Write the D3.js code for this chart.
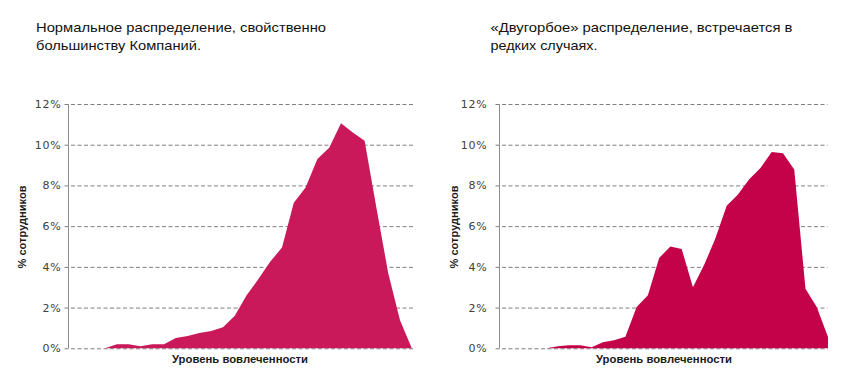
<!DOCTYPE html>
<html>
<head>
<meta charset="utf-8">
<script src="https://cdn.jsdelivr.net/npm/d3@7"></script>
<style>
  body { margin: 0; background: #fff; }
  svg { display: block; }
</style>
</head>
<body>
<svg id="chart" width="844" height="385"></svg>
<script>
// значения распределений, % сотрудников по уровню вовлеченности
let normalValues = [0, 0.2, 0.2, 0.1, 0.2, 0.2, 0.5, 0.6, 0.75, 0.85, 1.03, 1.6, 2.6, 3.4,
    4.25, 4.95, 7.15, 7.9, 9.3, 9.85, 11.05, 10.6, 10.2, 6.9, 3.7, 1.38, 0];
let twinPeakValues = [0, 0.1, 0.15, 0.15, 0.05, 0.3, 0.4, 0.57, 2.03, 2.6, 4.44, 5.0, 4.88,
    3.0, 4.1, 5.4, 7.0, 7.56, 8.3, 8.86, 9.64, 9.58, 8.78, 2.93, 2.03, 0.55];
let yTicks = [0, 2, 4, 6, 8, 10, 12];
let titleNormal = ["Нормальное распределение, свойственно", "большинству Компаний."];
let titleTwin = ["«Двугорбое» распределение, встречается в", "редких случаях."];
let yTitle = "% сотрудников";
let xTitle = "Уровень вовлеченности";

let svg = d3.select("#chart");

function drawPanel(values, title, p) {
    let g = svg.append("g");

    let yScale = d3.scaleLinear().domain([0, 12]).range([348.3, 104]);
    let xScale = d3.scaleLinear().domain([0, values.length - 1]).range([p.xFirst, p.xLast]);

    // заголовок
    g.selectAll("text.title")
        .data(title)
        .enter()
        .append("text")
        .attr("class", "title")
        .attr("x", p.titleX)
        .attr("y", (d, i) => 32 + i * 17.5)
        .attr("textLength", (d, i) => p.titleW[i])
        .attr("lengthAdjust", "spacingAndGlyphs")
        .style("font-family", "'Liberation Sans', Arial, sans-serif")
        .style("font-size", "13.5px")
        .style("fill", "#111")
        .text(d => d);

    // ось Y с сеткой
    let yAxis = d3.axisLeft(yScale)
        .tickValues(yTicks)
        .tickSize(-(p.gridEnd - p.axisX) - 4)
        .tickFormat(d => d + "%");
    let yAxisGroup = g.append("g")
        .attr("transform", `translate(${p.axisX - 4},0)`)
        .call(yAxis);
    yAxisGroup.select(".domain").remove();
    yAxisGroup.selectAll(".tick line")
        .attr("stroke", "#7f7f7f")
        .attr("stroke-dasharray", "4,2.5");
    yAxisGroup.selectAll(".tick text")
        .attr("x", -p.labelGap)
        .style("font-family", "'DejaVu Sans', Verdana, sans-serif")
        .style("font-size", "11px")
        .style("letter-spacing", "0.8px")
        .style("fill", "#404040");

    // площадь
    let area = d3.area()
        .x((d, i) => xScale(i))
        .y0(yScale(0))
        .y1(d => yScale(d));
    g.append("path")
        .datum(values)
        .attr("d", area)
        .attr("fill", p.color);

    // вертикальная линия оси
    g.append("line")
        .attr("x1", p.axisX).attr("x2", p.axisX)
        .attr("y1", yScale(12)).attr("y2", yScale(0))
        .attr("stroke", "#8c8c8c")
        .attr("stroke-width", 1);

    // подписи осей
    g.append("text")
        .attr("x", p.xTitleX)
        .attr("y", 363)
        .attr("text-anchor", "middle")
        .attr("textLength", 136)
        .attr("lengthAdjust", "spacingAndGlyphs")
        .style("font-family", "'Liberation Sans', Arial, sans-serif")
        .style("font-weight", "bold")
        .style("font-size", "11px")
        .style("fill", "#1a1a1a")
        .text(xTitle);

    g.append("text")
        .attr("transform", `translate(${p.yTitleX},227) rotate(-90)`)
        .attr("text-anchor", "middle")
        .attr("textLength", 83)
        .attr("lengthAdjust", "spacingAndGlyphs")
        .style("font-family", "'Liberation Sans', Arial, sans-serif")
        .style("font-weight", "bold")
        .style("font-size", "11px")
        .style("fill", "#1a1a1a")
        .text(yTitle);
}

drawPanel(normalValues, titleNormal, {
    axisX: 68.5, gridEnd: 413, xFirst: 105, xLast: 411.8, labelGap: 3,
    color: "#c9195a", titleX: 36, titleW: [290, 165],
    xTitleX: 240, yTitleX: 26
});

drawPanel(twinPeakValues, titleTwin, {
    axisX: 499.5, gridEnd: 827.5, xFirst: 546.6, xLast: 828, labelGap: 8,
    color: "#c3024a", titleX: 490.5, titleW: [302, 107],
    xTitleX: 664, yTitleX: 457.5
});
</script>
</body>
</html>
